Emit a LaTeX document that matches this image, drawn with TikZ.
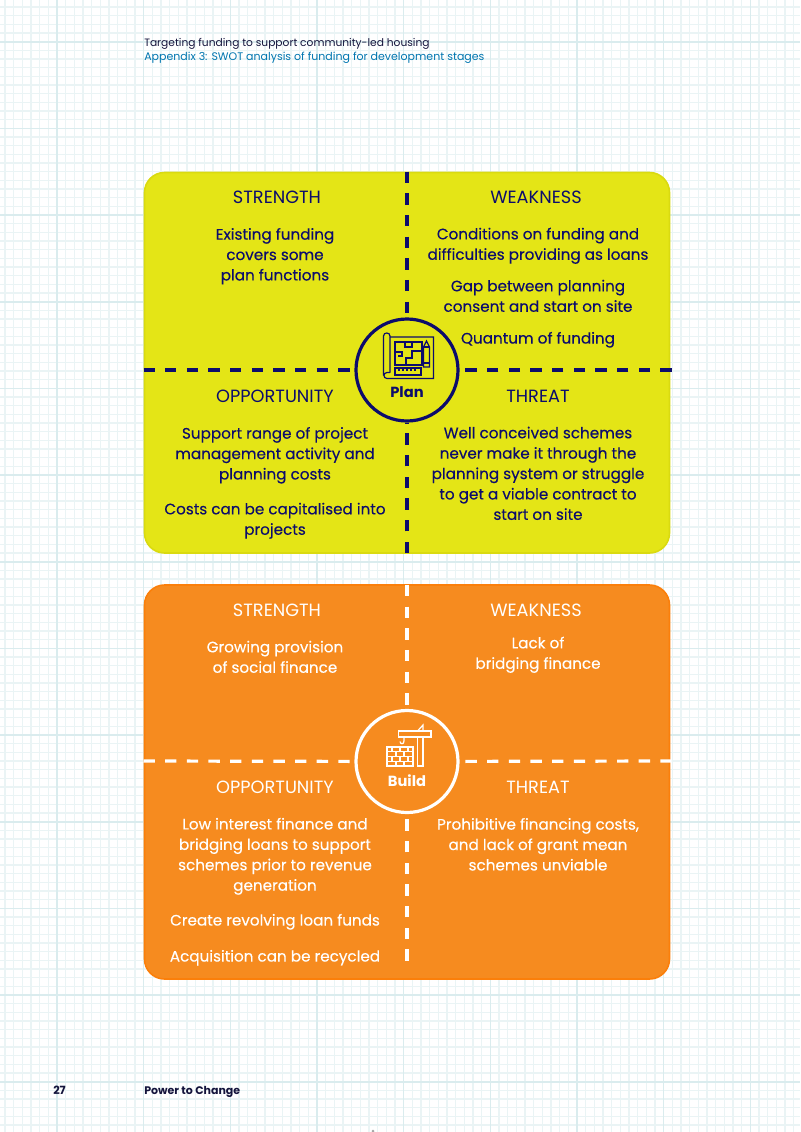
\documentclass[tikz,border=0pt]{standalone}
\usepackage{fontspec}
\setmainfont{Poppins}
\definecolor{gridminor}{HTML}{EAF4F5}
\definecolor{gridmajor}{HTML}{DAECEE}
\definecolor{panelyellow}{HTML}{E4E516}
\definecolor{edgeyellow}{HTML}{DADA10}
\definecolor{panelorange}{HTML}{F68B1F}
\definecolor{edgeorange}{HTML}{FB7F0A}
\definecolor{navy}{HTML}{0C0C6C}
\definecolor{inkdark}{HTML}{14143C}
\definecolor{inkblue}{HTML}{0076B0}
\newcommand{\bodyfont}{\fontsize{11.4}{15.3}\selectfont\addfontfeature{FakeBold=0.25}}
\tikzset{
  x=0.75pt,y=-0.75pt,
  panel/.style={rounded corners=15pt,line width=1.2pt},
  head/.style={font=\fontsize{13.3}{15.3}\selectfont,inner sep=0pt,yshift=-1.2pt},
  body/.style={font=\bodyfont,align=center,inner sep=0pt,yshift=-1.1pt},
  label/.style={font=\fontsize{11}{13}\selectfont\bfseries,inner sep=0pt,yshift=-1.3pt},
  centre/.style={circle,minimum size=76.5pt,inner sep=0pt,line width=2.4pt},
  divider/.style={line width=2.4pt,dash pattern=on 8.5pt off 7.74pt},
  icon/.style={line width=0.9pt},
  small/.style={inner sep=0pt,anchor=west,yshift=-1pt},
}
\begin{document}
\begin{tikzpicture}
\useasboundingbox (0,0) rectangle (800,1132);
\fill[white] (0,0) rectangle (800,1132);
% grid paper
\foreach \k in {0,...,92}{
  \draw[gridminor,line width=0.85pt] ({5.0+\k*8.667},0) -- ({5.0+\k*8.667},1132);
}
\foreach \k in {0,...,130}{
  \draw[gridminor,line width=0.85pt] (0,{7.0+\k*8.667}) -- (800,{7.0+\k*8.667});
}
\foreach \k in {0,...,9}{
  \draw[gridmajor,line width=1.2pt] ({57.0+\k*86.67},0) -- ({57.0+\k*86.67},1132);
}
\foreach \k in {0,...,12}{
  \draw[gridmajor,line width=1.2pt] (0,{41.7+\k*86.67}) -- (800,{41.7+\k*86.67});
}
% header / footer
\node[small,text=inkdark,font=\fontsize{8}{10.5}\selectfont] (hdra) at (144,42.5) {\strut Targeting funding to support community-led housing};
\node[small,text=inkblue,font=\fontsize{8.25}{10.5}\selectfont] (hdrb) at (144,56) {\strut Appendix 3: SWOT analysis of funding for development stages};
\node[small,text=inkdark,font=\fontsize{8.5}{10.5}\selectfont\bfseries] (pg) at (53,1090) {\strut 27};
\node[small,text=inkdark,font=\fontsize{8.25}{10.5}\selectfont\bfseries] (ftr) at (144,1090) {\strut Power to Change};
\fill[gray!70] (373,1131) circle (1.5);

% ---------- PLAN ----------
\filldraw[panel,fill=panelyellow,draw=edgeyellow] (144.5,172.5) rectangle (669.5,553);
\node[centre,draw=navy] (plan) at (407,370) {};
\coordinate (planT) at (407,171.7);
\coordinate (planB) at (407,553);
\coordinate (planL) at (143.5,370);
\coordinate (planR) at (671.7,370);
\draw[divider,navy] (planT) -- (plan);
\draw[divider,navy] (planB) -- (plan);
\draw[divider,navy] (planL) -- (plan);
\draw[divider,navy] (planR) -- (plan);
\begin{scope}[text=navy]
\node[head] (ps) at (277,198) {\strut STRENGTH};
\node[body] (ps1) at (275,254.5) {\strut Existing funding\\\strut covers some\\\strut plan functions};
\node[head] (pw) at (536,198) {\strut WEAKNESS};
\node[body] (pw1) at (538,244) {\strut Conditions on funding and\\\strut difficulties providing as loans};
\node[body] (pw2) at (538,296) {\strut Gap between planning\\\strut consent and start on site};
\node[body] (pw3) at (538,338) {\strut Quantum of funding};
\node[head] (po) at (275,397) {\strut OPPORTUNITY};
\node[body] (po1) at (275,453.5) {\strut Support range of project\\\strut management activity and\\\strut planning costs};
\node[body] (po2) at (275,519) {\strut Costs can be capitalised into\\\strut projects};
\node[head] (pt) at (538,397) {\strut THREAT};
\node[body] (pt1) at (538,473.5) {\strut Well conceived schemes\\\strut never make it through the\\\strut planning system or struggle\\\strut to get a viable contract to\\\strut start on site};
\node[label] (pl) at (407,392.5) {\strut Plan};
\end{scope}
% plan icon
\begin{scope}[icon,draw=navy]
\draw (390,337) -- (433.5,337) -- (433.5,378.5) -- (387,378.5) .. controls (383,378.5) and (383,372.5) .. (387,372.5) -- (390,372.5);
\draw (383.5,375.5) -- (383.5,336) .. controls (383.5,332) and (390,332) .. (390,336) -- (390,372.5);
\draw (395,342) rectangle (422,365);
\draw (395,368) rectangle (421,375);
\foreach \xx in {399,403,407,411,415}{\draw (\xx,368) -- (\xx,371);}
\draw (405,342) -- (405,347) -- (412,347) -- (412,342);
\draw (395,352) -- (402,352) -- (402,356) -- (398,356);
\draw (422,351) -- (412,351) -- (412,358) -- (406,358) -- (406,365);
\draw (423.5,347) -- (426.5,341) -- (429.5,347) -- (429.5,367) -- (423.5,367) -- cycle;
\draw (423.5,347) -- (429.5,347) (423.5,363) -- (429.5,363);
\end{scope}

% ---------- BUILD ----------
\filldraw[panel,fill=panelorange,draw=edgeorange] (144.5,585) rectangle (669.5,979);
\node[centre,draw=white] (build) at (407,761.5) {};
\coordinate (buildT) at (407,585);
\coordinate (buildB) at (407,960.7);
\coordinate (buildL) at (143.5,761);
\coordinate (buildR) at (671.7,761);
\draw[divider,white] (buildT) -- (build);
\draw[divider,white] (buildB) -- (build);
\draw[divider,white] (buildL) -- (build);
\draw[divider,white] (buildR) -- (build);
\begin{scope}[text=white]
\node[head] (bs) at (277,611) {\strut STRENGTH};
\node[body] (bs1) at (275,657) {\strut Growing provision\\\strut of social finance};
\node[head] (bw) at (536,611) {\strut WEAKNESS};
\node[body] (bw1) at (538,653) {\strut Lack of\\\strut bridging finance};
\node[head] (bo) at (275,788) {\strut OPPORTUNITY};
\node[body] (bo1) at (275,854.5) {\strut Low interest finance and\\\strut bridging loans to support\\\strut schemes prior to revenue\\\strut generation};
\node[body] (bo2) at (275,920) {\strut Create revolving loan funds};
\node[body] (bo3) at (275,956) {\strut Acquisition can be recycled};
\node[head] (bt) at (538,788) {\strut THREAT};
\node[body] (bt1) at (538,844.5) {\strut Prohibitive financing costs,\\\strut and lack of grant mean\\\strut schemes unviable};
\node[label] (bl) at (407,781) {\strut Build};
\end{scope}
% build icon
\begin{scope}[icon,draw=white]
\draw (387,747) rectangle (413,766);
\foreach \yy in {751.7,756.4,761.1}{\draw (387,\yy) -- (413,\yy);}
\foreach \xx in {392,400,408}{\draw (\xx,747) -- (\xx,751.7) (\xx,756.4) -- (\xx,761.1);}
\foreach \xx in {396,404}{\draw (\xx,751.7) -- (\xx,756.4) (\xx,761.1) -- (\xx,766);}
\draw (417.5,737) rectangle (423,766);
\draw (398.5,731) rectangle (431,737);
\draw (417.5,731) -- (423,725) -- (423,731);
\draw (404,737) -- (404,741) .. controls (404,745) and (400,744) .. (400,741.5);
\end{scope}
\end{tikzpicture}
\end{document}
